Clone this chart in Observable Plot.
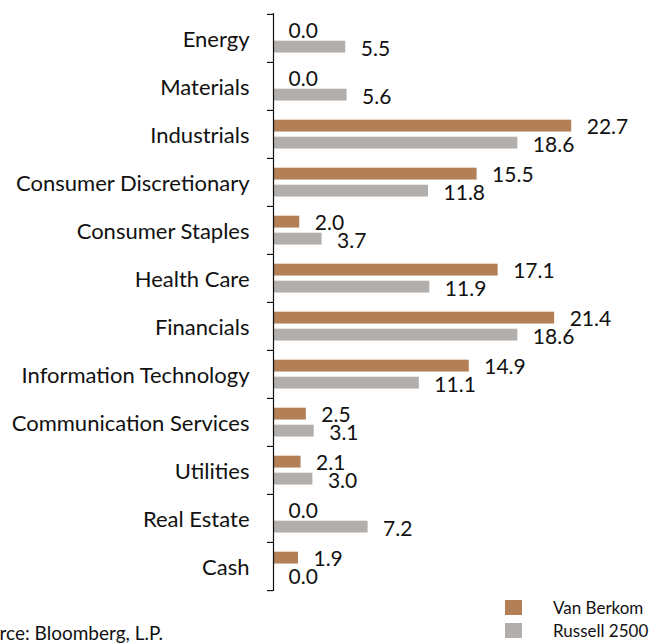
<!DOCTYPE html>
<html>
<head>
<meta charset="utf-8">
<script src="https://cdn.jsdelivr.net/npm/d3@7"></script>
<script src="https://cdn.jsdelivr.net/npm/@observablehq/plot@0.6"></script>
<style>
  html, body { margin: 0; padding: 0; background: #fff; }
  #wrap { position: relative; width: 652px; height: 643px; overflow: hidden; font-family: Lato, sans-serif; color: #111; }
  #chart { position: absolute; left: 0; top: 0; }
  .src { position: absolute; right: 489px; top: 622px; font-size: 19px; line-height: 22px; white-space: nowrap; text-align: right; }
  .leg { position: absolute; left: 505px; font-size: 17px; white-space: nowrap; }
  .leg .sw { position: absolute; left: 0; top: 0; width: 17px; height: 15px; }
  .leg span.t { position: absolute; left: 48px; top: -3px; }
</style>
</head>
<body>
<div id="wrap">
  <div id="chart"></div>
  <div class="src">Source: Bloomberg, L.P.</div>
  <div class="leg" style="top:600px"><div class="sw" style="background:#b27f56"></div><span class="t">Van Berkom</span></div>
  <div class="leg" style="top:623px"><div class="sw" style="background:#b2aeac"></div><span class="t">Russell 2500</span></div>
</div>
<script>
const categories = ["Energy", "Materials", "Industrials", "Consumer Discretionary", "Consumer Staples", "Health Care", "Financials", "Information Technology", "Communication Services", "Utilities", "Real Estate", "Cash"];
const vanBerkom = [0.0, 0.0, 22.7, 15.5, 2.0, 17.1, 21.4, 14.9, 2.5, 2.1, 0.0, 1.9];
const russell2500 = [5.5, 5.6, 18.6, 11.8, 3.7, 11.9, 18.6, 11.1, 3.1, 3.0, 7.2, 0.0];

const vb = categories.map((c, i) => ({category: c, value: vanBerkom[i]}));
const ru = categories.map((c, i) => ({category: c, value: russell2500[i]}));

const H = 596, MT = 13, MB = 5;
const band = (H - MT - MB) / categories.length;
const half = band / 2;

const chart = Plot.plot({
  width: 652,
  height: H,
  marginTop: MT,
  marginBottom: MB,
  marginLeft: 273,
  marginRight: 0,
  style: {fontFamily: "Lato, sans-serif", fontSize: "20px", color: "#111", background: "white"},
  x: {domain: [0, 28.85], axis: null},
  y: {domain: categories, padding: 0, axis: null},
  marks: [
    Plot.barX(vb, {x: "value", y: "category", fill: "#b27f56", insetTop: 9.7, insetBottom: band - 21.7}),
    Plot.barX(ru, {x: "value", y: "category", fill: "#b2aeac", insetTop: 26.7, insetBottom: band - 38.7}),
    Plot.text(vb, {x: "value", y: "category", text: d => d.value.toFixed(1), textAnchor: "start", dx: 15, dy: -7.5, fontSize: 21, fill: "#111"}),
    Plot.text(ru, {x: "value", y: "category", text: d => d.value.toFixed(1), textAnchor: "start", dx: 15, dy: 11, fontSize: 21, fill: "#111"}),
    Plot.axisY({tickSize: 0, tickPadding: 24, fontSize: 22, label: null, fill: "#111", dy: 1}),
    Plot.ruleX([0], {stroke: "#111", strokeWidth: 1.2}),
    Plot.ruleY(categories, {y: d => d, x1: 0, x2: 0, insetLeft: -6, dy: -half, stroke: "#111", strokeWidth: 1.2}),
    Plot.ruleY(categories.slice(-1), {y: d => d, x1: 0, x2: 0, insetLeft: -6, dy: half, stroke: "#111", strokeWidth: 1.2})
  ]
});
document.getElementById("chart").appendChild(chart);
</script>
</body>
</html>
